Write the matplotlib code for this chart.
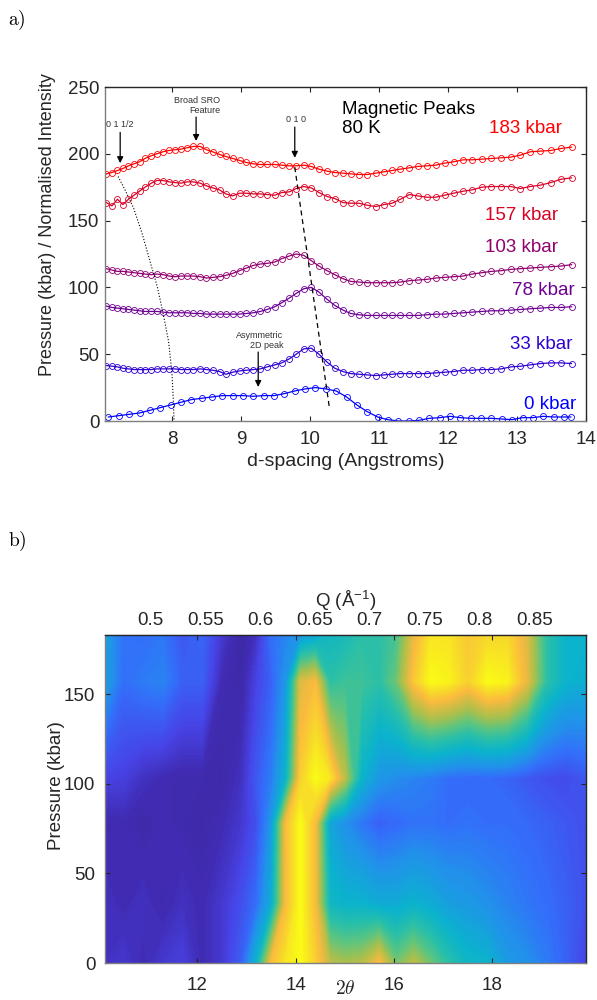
import numpy as np
import matplotlib
matplotlib.use('Agg')
import matplotlib.pyplot as plt
from matplotlib.colors import LinearSegmentedColormap
from matplotlib.ticker import FixedLocator, FuncFormatter

plt.rcParams['font.family'] = ['Liberation Sans', 'DejaVu Sans']
plt.rcParams['mathtext.fontset'] = 'custom'
plt.rcParams['mathtext.rm'] = 'Liberation Sans'
plt.rcParams['mathtext.it'] = 'Liberation Sans:italic'

WAVELENGTH = 2.422  # Angstrom, links 2theta and Q

# ---------------- panel a) data ----------------
pressures = [0, 33, 78, 103, 157, 183]
series_colors = ['#0000FF', '#2E00D1', '#6D0092', '#90006F', '#DB0024', '#FF0000']

d_grid = [7.05, 7.13, 7.21, 7.29, 7.37, 7.45, 7.53, 7.61, 7.70, 7.78,
          7.87, 7.96, 8.04, 8.13, 8.22, 8.31, 8.41, 8.50, 8.59, 8.69,
          8.78, 8.88, 8.98, 9.08, 9.18, 9.28, 9.38, 9.49, 9.59, 9.70,
          9.80, 9.91, 10.02, 10.13, 10.25, 10.36, 10.48, 10.59, 10.71, 10.83,
          10.95, 11.07, 11.19, 11.31, 11.44, 11.56, 11.69, 11.82, 11.95, 12.08,
          12.22, 12.35, 12.49, 12.63, 12.77, 12.91, 13.05, 13.19, 13.34, 13.49,
          13.64, 13.79]

d_grid_0 = [7.08, 7.23, 7.38, 7.53, 7.68, 7.83, 7.98, 8.13, 8.28, 8.43,
            8.58, 8.73, 8.88, 9.03, 9.18, 9.33, 9.48, 9.63, 9.78, 9.93,
            10.08, 10.23, 10.38, 10.53, 10.68, 10.83, 10.98, 11.13, 11.28, 11.43,
            11.58, 11.73, 11.88, 12.03, 12.18, 12.33, 12.48, 12.63, 12.78, 12.93,
            13.08, 13.23, 13.38, 13.53, 13.68, 13.78]

i_0 = [3, 4, 5, 6, 8, 10, 12, 14, 16, 17,
       18, 19, 19, 19, 18.5, 19, 19, 20.5, 22.5, 24,
       25, 24, 22.5, 18, 12, 7, 3, 1, 0, 0,
       0.5, 2, 2.5, 3.5, 2.5, 2, 2, 2, 1.5, 1,
       2.5, 2.5, 3.5, 3, 3, 3]

i_33 = [41.5, 41, 40.5, 39.5, 39, 38.5, 38.5, 38.5, 38.5, 39,
        39, 39, 39, 38.5, 38.5, 38.5, 39, 38.5, 38, 37,
        35, 36.5, 37.5, 38, 38.5, 39, 40.5, 42, 43.5, 46.5,
        50, 54, 54.5, 50, 44, 39.5, 37, 35.5, 35, 34.5,
        34, 34.5, 35, 35.5, 35.5, 35.5, 35.5, 36, 36.5, 37,
        38, 38, 38.5, 38.5, 39, 40.5, 41, 42, 43, 43.5,
        43.5, 43]

i_78 = [86, 85, 84.5, 84, 83.5, 83, 82.5, 82, 82, 82,
        81.5, 81, 81, 81, 81, 80.5, 80.5, 80, 80, 80,
        80, 80, 80, 80.5, 81, 82, 83.5, 85.5, 88.5, 92,
        95.5, 99, 100, 96.5, 91, 86.5, 83, 80.5, 79.5, 79,
        79, 79, 79, 79, 79, 79, 79.5, 80, 80, 80.5,
        81, 81.5, 82, 82.5, 82.5, 83, 83.5, 84, 84.5, 85,
        85, 85.5]

i_103 = [114, 113, 112, 112, 111.5, 111, 110.5, 110, 109.5, 110,
         109.5, 108.5, 108, 108.5, 108.5, 108.5, 108, 107, 107.5, 108,
         109, 110.5, 112.5, 114.5, 116.5, 117.5, 118, 119, 121.5, 123.5,
         125, 124, 120, 116, 112.5, 109.5, 106.5, 104.5, 104, 103.5,
         103.5, 103.5, 103.5, 104, 105, 105.5, 106, 107, 107.5, 108,
         108.5, 110, 111, 112, 112.5, 113.5, 114, 114.5, 115, 115.5,
         116, 117]

i_157 = [163.5, 161, 166, 162, 166, 169, 172, 175, 178, 180,
         180, 179, 178.5, 178, 179, 179, 178, 176, 174.5, 173,
         170, 168.5, 170.5, 170.5, 170, 170, 169.5, 169, 171, 171.5,
         174, 175.5, 174.5, 171, 168, 166.5, 163.5, 163, 163, 161.5,
         160.5, 162, 163, 166, 169.5, 168.5, 167.5, 167.5, 169, 170.5,
         172, 173, 175, 175.5, 175.5, 175.5, 174, 175.5, 176.5, 178.5,
         181, 182]

i_183 = [185, 186, 187.5, 189, 191, 192.5, 194, 196.5, 198.5, 200,
         201.5, 202.5, 203, 203.5, 204.5, 205.5, 205.5, 203, 201.5, 199.5,
         198, 196.5, 195, 193.5, 192.5, 192, 192, 192, 191.5, 191,
         191, 191.5, 190.5, 188.5, 187, 186, 185.5, 185, 184.5, 184.5,
         185.5, 186.5, 187.5, 188.5, 189.5, 190.5, 191, 191.5, 193, 194,
         195.5, 195.5, 196, 196.5, 197, 197.5, 199, 201.5, 202, 202.5,
         204, 205]

# label placement (right edge in d, centre in intensity)
label_d = [13.86, 13.80, 13.83, 13.59, 13.59, 13.65]
label_y = [12, 57.6, 97.5, 129.7, 153.5, 219]

# guide curves for peak positions
dotted_d = [7.22, 7.32, 7.44, 7.57, 7.68, 7.79, 7.87, 7.95, 8.00, 8.02, 8.03]
dotted_p = [183, 173, 160, 140, 120, 100, 81, 60, 36, 16, 0]
dashed_d = [9.78, 10.28]
dashed_p = [190, 10.5]

# ---------------- panel b) data ----------------
heat_tt = [10.13, 10.5, 10.9, 11.3, 11.7, 12.1, 12.5, 12.9, 13.2, 13.5,
           13.8, 14.1, 14.4, 14.7, 15.0, 15.35, 15.7, 16.05, 16.4, 16.75,
           17.1, 17.5, 17.9, 18.3, 18.7, 19.1, 19.5, 19.9]
heat_0 = [0.10, 0.12, 0.08, 0.12, 0.14, 0.08, 0.12, 0.22, 0.45, 0.85,
          0.95, 1.00, 0.90, 0.75, 0.72, 0.74, 0.86, 0.66, 0.75, 0.65,
          0.55, 0.47, 0.45, 0.36, 0.33, 0.28, 0.22, 0.15]
heat_33 = [0.10, 0.08, 0.10, 0.07, 0.10, 0.08, 0.12, 0.18, 0.25, 0.42,
           0.85, 1.00, 0.85, 0.48, 0.45, 0.45, 0.42, 0.42, 0.45, 0.42,
           0.38, 0.36, 0.33, 0.30, 0.27, 0.25, 0.22, 0.18]
heat_78 = [0.07, 0.08, 0.06, 0.08, 0.07, 0.06, 0.08, 0.12, 0.18, 0.35,
           0.85, 1.00, 0.85, 0.40, 0.33, 0.27, 0.22, 0.24, 0.26, 0.26,
           0.25, 0.26, 0.25, 0.25, 0.24, 0.22, 0.20, 0.18]
heat_103 = [0.15, 0.14, 0.10, 0.08, 0.07, 0.07, 0.06, 0.10, 0.20, 0.28,
            0.45, 0.90, 1.00, 0.95, 0.75, 0.45, 0.35, 0.32, 0.30, 0.28,
            0.25, 0.24, 0.24, 0.23, 0.20, 0.18, 0.17, 0.20]
heat_157 = [0.38, 0.25, 0.28, 0.30, 0.22, 0.22, 0.08, 0.06, 0.15, 0.22,
            0.35, 0.80, 0.85, 0.55, 0.58, 0.58, 0.55, 0.65, 0.88, 1.00,
            0.98, 0.90, 1.00, 0.98, 0.82, 0.55, 0.45, 0.43]
heat_183 = [0.38, 0.26, 0.25, 0.27, 0.20, 0.23, 0.12, 0.05, 0.10, 0.25,
            0.30, 0.35, 0.40, 0.48, 0.50, 0.55, 0.55, 0.60, 0.82, 0.95,
            0.95, 0.88, 0.92, 0.92, 0.80, 0.55, 0.45, 0.45]
q_ticks = [0.5, 0.55, 0.6, 0.65, 0.7, 0.75, 0.8, 0.85]

# parula-like colormap
parula = LinearSegmentedColormap.from_list('parula', [
    (0.00, (0.21, 0.15, 0.56)),
    (0.08, (0.25, 0.17, 0.70)),
    (0.15, (0.28, 0.26, 0.90)),
    (0.25, (0.20, 0.43, 0.98)),
    (0.33, (0.13, 0.57, 0.92)),
    (0.45, (0.04, 0.70, 0.80)),
    (0.55, (0.16, 0.75, 0.66)),
    (0.63, (0.36, 0.77, 0.50)),
    (0.72, (0.66, 0.75, 0.30)),
    (0.85, (0.98, 0.73, 0.24)),
    (0.93, (0.97, 0.86, 0.16)),
    (1.00, (0.98, 0.98, 0.08)),
])

AX_DARK = '#262626'
AX_GREY = '#7f7f7f'


def style_box(ax):
    ax.spines['left'].set_color(AX_GREY)
    ax.spines['bottom'].set_color(AX_GREY)
    ax.spines['top'].set_color(AX_DARK)
    ax.spines['right'].set_color(AX_DARK)
    for s in ax.spines.values():
        s.set_linewidth(1.0)
    ax.tick_params(direction='in', top=True, right=True, length=3.5,
                   width=0.8, color=AX_DARK, labelcolor=AX_DARK, labelsize=13.5)


def tt_to_q(tt):
    return 4 * np.pi * np.sin(np.radians(np.asarray(tt) / 2)) / WAVELENGTH


def q_to_tt(q):
    s = np.clip(np.asarray(q) * WAVELENGTH / (4 * np.pi), -1, 1)
    return 2 * np.degrees(np.arcsin(s))


fig = plt.figure(figsize=(5.97, 10), dpi=100)

# ---------------- panel a) ----------------
ax1 = fig.add_axes([105 / 597, 1 - 421 / 1000, 481 / 597, 334 / 1000])
all_d = [d_grid_0, d_grid, d_grid, d_grid, d_grid, d_grid]
all_i = [i_0, i_33, i_78, i_103, i_157, i_183]
for d, y, c in zip(all_d, all_i, series_colors):
    ax1.plot(d, y, '-o', color=c, lw=0.9, markersize=4.3,
             markerfacecolor='none', markeredgewidth=0.6)

for p, c, xd, yv in zip(pressures, series_colors, label_d, label_y):
    ax1.text(xd, yv, f'{p} kbar', color=c, fontsize=13.5, ha='right', va='center')

ax1.plot(dotted_d, dotted_p, ':', color='k', lw=0.8)
ax1.plot(dashed_d, dashed_p, '--', color='k', lw=0.9, dashes=(4, 3))

arrow = dict(arrowstyle='-|>', color='k', lw=0.9, mutation_scale=9,
             shrinkA=0, shrinkB=0)
ax1.annotate('', xy=(7.25, 193), xytext=(7.25, 216), arrowprops=arrow)
ax1.text(7.25, 222, '0 1 1/2', fontsize=6.5, color='#333333', ha='center', va='center')
ax1.annotate('', xy=(8.35, 209.6), xytext=(8.35, 227.5), arrowprops=arrow)
ax1.text(8.70, 243, 'Broad SRO\nFeature', fontsize=6.5, color='#333333',
         ha='right', va='top', multialignment='right', linespacing=1.05)
ax1.annotate('', xy=(9.78, 197), xytext=(9.78, 220), arrowprops=arrow)
ax1.text(9.80, 225.5, '0 1 0', fontsize=6.5, color='#333333', ha='center', va='center')
ax1.annotate('', xy=(9.25, 25.5), xytext=(9.25, 51.6), arrowprops=arrow)
ax1.text(9.61, 67, 'Asymmetric\n2D peak', fontsize=6.5, color='#333333',
         ha='right', va='top', multialignment='right', linespacing=1.05)
ax1.text(10.46, 239.5, 'Magnetic Peaks\n80 K', fontsize=13.5, color='k',
         ha='left', va='top', linespacing=1.15)

ax1.set_xlim(7.03, 14)
ax1.set_ylim(0, 250)
ax1.set_xticks([8, 9, 10, 11, 12, 13, 14])
ax1.set_yticks([0, 50, 100, 150, 200, 250])
style_box(ax1)
ax1.tick_params(axis='x', pad=7)
ax1.tick_params(axis='y', pad=4)
ax1.set_xlabel('d-spacing (Angstroms)', fontsize=14, color=AX_DARK, va='center')
ax1.xaxis.set_label_coords(0.5, (421 - 462) / 334)
ax1.set_ylabel('Pressure (kbar) / Normalised Intensity', fontsize=13,
               color=AX_DARK, va='center')
ax1.yaxis.set_label_coords((47 - 105) / 481, (421 - 225) / 334)

# ---------------- panel b) ----------------
ax2 = fig.add_axes([105 / 597, 1 - 963 / 1000, 481 / 597, 328 / 1000])
heat = np.array([heat_0, heat_33, heat_78, heat_103, heat_157, heat_183])
# filled contours with many levels mimic an index-interpolated (shading interp) map
ax2.contourf(heat_tt, pressures, heat, levels=np.linspace(0, 1.001, 160),
             cmap=parula, vmin=0, vmax=1, extend='both', antialiased=False)
ax2.set_xlim(10.13, 19.9)
ax2.set_ylim(0, 183)
ax2.set_xticks([12, 14, 16, 18])
ax2.set_yticks([0, 50, 100, 150])
style_box(ax2)
ax2.tick_params(labeltop=False)
ax2.tick_params(axis='x', pad=10)
ax2.tick_params(axis='y', pad=7)
ax2.set_xlabel(r'$2\theta$', fontsize=14, color=AX_DARK, math_fontfamily='cm',
               va='center')
ax2.xaxis.set_label_coords(0.5, (963 - 989) / 328)
ax2.set_ylabel('Pressure (kbar)', fontsize=13.5, color=AX_DARK, va='center')
ax2.yaxis.set_label_coords((56 - 105) / 481, 0.54)

secax = ax2.secondary_xaxis('top', functions=(tt_to_q, q_to_tt))
secax.xaxis.set_major_locator(FixedLocator(q_ticks))
secax.xaxis.set_major_formatter(FuncFormatter(lambda v, pos: f'{v:g}'))
secax.tick_params(direction='in', length=3.5, width=0.8, color=AX_DARK,
                  labelcolor=AX_DARK, labelsize=13.5, pad=4)
secax.spines['top'].set_color(AX_DARK)
secax.set_xlabel('Q (Å$^{-1}$)', fontsize=13.5, color=AX_DARK, labelpad=4)

# panel letters
fig.text(8 / 597, 1 - 20 / 1000, r'$\mathrm{a)}$', fontsize=14, math_fontfamily='cm',
         ha='left', va='center')
fig.text(8 / 597, 1 - 541 / 1000, r'$\mathrm{b)}$', fontsize=14, math_fontfamily='cm',
         ha='left', va='center')

fig.savefig('out.png', dpi=100)
